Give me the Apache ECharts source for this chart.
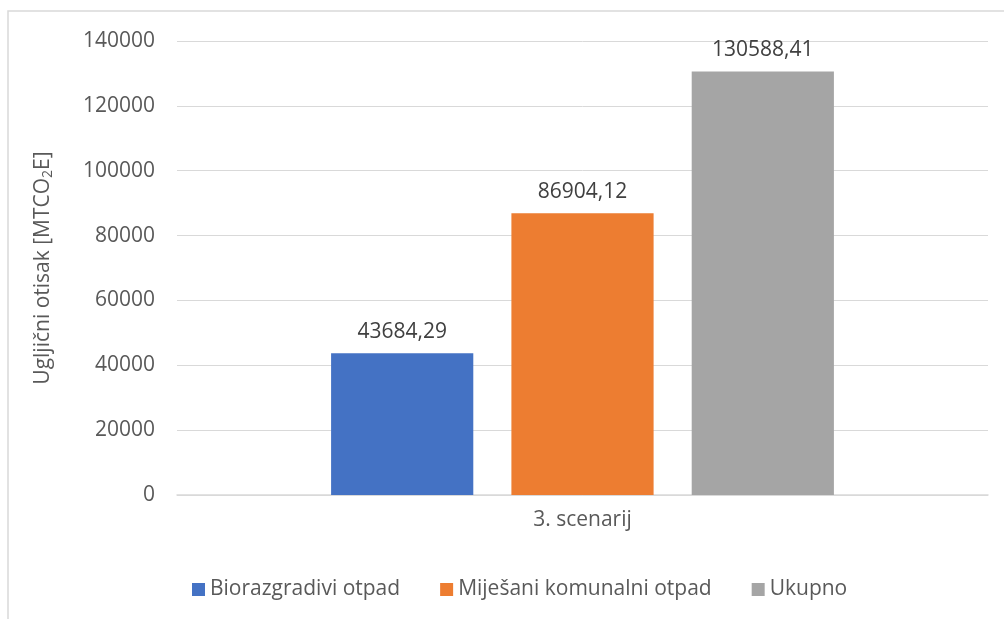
<!DOCTYPE html>
<html><head><meta charset="utf-8">
<script src="https://cdn.jsdelivr.net/npm/echarts@6/dist/echarts.min.js"></script>
<style>html,body{margin:0;padding:0;background:#fff}#c{width:1004px;height:619px}</style>
</head><body><div id="c"></div>
<script>
const categories = ['3. scenarij'];
const seriesNames = ['Biorazgradivi otpad', 'Miješani komunalni otpad', 'Ukupno'];
const biorazgradivi = [43684.29];
const mijesani = [86904.12];
const ukupno = [130588.41];
const colors = ['#4472C4', '#ED7D31', '#A5A5A5'];
const FONT = '"Open Sans", sans-serif';
const FS = 21;
const fmt = v => v.toFixed(2).replace('.', ',');
const chart = echarts.init(document.getElementById('c'));
const mk = (name, data, color) => ({
  name, type: 'bar', data, barGap: '26.8%', barCategoryGap: '38%',
  itemStyle: { color },
  label: { show: true, position: 'top', distance: 11, color: '#404040', fontFamily: FONT, fontSize: FS,
    formatter: p => fmt(p.value) }
});
chart.setOption({
  animation: false,
  textStyle: { fontFamily: FONT },
  graphic: [{ type: 'rect', shape: { x: 8, y: 11, width: 1100, height: 700 },
    style: { fill: 'none', stroke: '#d9d9d9', lineWidth: 1.5 }, z: -1 }],
  grid: { left: 177, right: 16, top: 41, bottom: 124 },
  legend: {
    bottom: 14, left: 187, itemWidth: 13, itemHeight: 13, itemGap: 40, icon: 'rect',
    textStyle: { color: '#595959', fontSize: FS, fontFamily: FONT },
    data: seriesNames
  },
  xAxis: {
    type: 'category', data: categories,
    axisLine: { lineStyle: { color: '#d9d9d9', width: 1.5 } },
    axisTick: { show: false },
    axisLabel: { color: '#595959', fontSize: FS, fontFamily: FONT, margin: 15 }
  },
  yAxis: {
    type: 'value', min: 0, max: 140000, interval: 20000,
    name: '{a|Ugljični otisak [MTCO}{s|2}{a|E]}',
    nameLocation: 'middle', nameGap: 122, nameRotate: 90,
    nameTextStyle: { color: '#595959', fontSize: FS, fontFamily: FONT, rich: {
      a: { color: '#595959', fontSize: FS, fontFamily: FONT },
      s: { color: '#595959', fontSize: 14, fontFamily: FONT, padding: [10, 0, 0, 0] }
    } },
    axisLine: { show: false }, axisTick: { show: false },
    splitLine: { lineStyle: { color: '#d9d9d9', width: 1 } },
    axisLabel: { color: '#595959', fontSize: FS, fontFamily: FONT, margin: 22, formatter: v => String(v) }
  },
  series: [
    mk(seriesNames[0], biorazgradivi, colors[0]),
    mk(seriesNames[1], mijesani, colors[1]),
    mk(seriesNames[2], ukupno, colors[2])
  ]
});
</script></body></html>
